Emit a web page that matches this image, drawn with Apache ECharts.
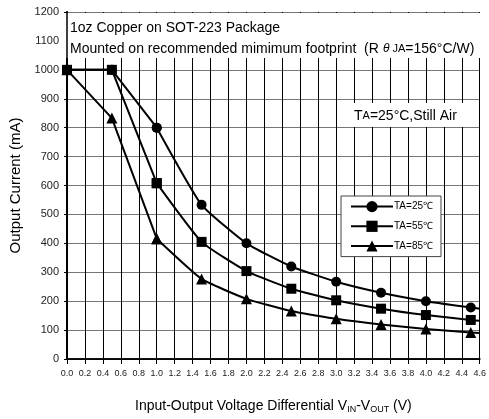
<!DOCTYPE html>
<html>
<head>
<meta charset="utf-8">
<script src="https://cdn.jsdelivr.net/npm/echarts@6/dist/echarts.min.js"></script>
<style>
html,body{margin:0;padding:0;background:#fff;}
#main{width:489px;height:419px;}
</style>
</head>
<body>
<div id="main"></div>
<script>
var xValues = [0, 0.5, 1.0, 1.5, 2.0, 2.5, 3.0, 3.5, 4.0, 4.5, 4.6];
var ta25 = [1000, 1000, 800, 533, 400, 320, 267, 229, 200, 178, 174];
var ta55 = [1000, 1000, 608, 405, 304, 243, 203, 174, 152, 135, 132];
var ta85 = [1000, 833, 416, 277, 208, 166, 139, 119, 104, 92, 90];
var seriesNames = ['TA=25\u2103', 'TA=55\u2103', 'TA=85\u2103'];
var yTicks = [0, 100, 200, 300, 400, 500, 600, 700, 800, 900, 1000, 1100, 1200];

function build(vals, from, to) {
  var out = [];
  for (var i = from; i <= to; i++) {
    var item = { value: [xValues[i], vals[i]] };
    if (i === vals.length - 1) item.symbol = 'none';
    out.push(item);
  }
  return out;
}

var FONT = 'Liberation Sans, Arial, sans-serif';
var chart = echarts.init(document.getElementById('main'));
function mkSeries(name, vals, sym, size) {
  var base = {
    name: name, type: 'line',
    symbol: sym, symbolSize: size,
    lineStyle: { color: '#000', width: 2 },
    itemStyle: { color: '#000' },
    emphasis: { disabled: true },
    z: 3
  };
  var straight = Object.assign({}, base, { data: build(vals, 0, 2), smooth: false });
  var curved = Object.assign({}, base, { data: build(vals, 2, vals.length - 1), smooth: 0.15 });
  return [straight, curved];
}
var series = [].concat(
  mkSeries(seriesNames[0], ta25, 'circle', 10),
  mkSeries(seriesNames[2], ta85, 'triangle', 11),
  mkSeries(seriesNames[1], ta55, 'rect', 10)
);
chart.setOption({
  animation: false,
  backgroundColor: '#fff',
  grid: { left: 62, right: 7, top: 12, bottom: 54, containLabel: false },
  legend: {
    data: seriesNames,
    orient: 'vertical',
    left: 341, top: 196,
    padding: [5, 8, 5, 9],
    itemGap: 8.5,
    itemWidth: 42, itemHeight: 14,
    backgroundColor: '#fff',
    borderColor: '#444', borderWidth: 1,
    textStyle: { fontFamily: FONT, fontSize: 10, color: '#000', padding: [0, 0, 0, -4] },
    z: 5
  },
  xAxis: [{
    type: 'value', min: 0, max: 4.6, interval: 0.2,
    name: '{n|Input-Output Voltage Differential V}{s|IN}{n|-V}{s|OUT}{n| (V)}',
    nameLocation: 'middle', nameGap: 40,
    nameTextStyle: {
      rich: {
        n: { fontFamily: FONT, fontSize: 14, color: '#000' },
        s: { fontFamily: FONT, fontSize: 9, color: '#000', verticalAlign: 'bottom', padding: [6, 0, 0, 0] }
      }
    },
    axisLine: { show: true, lineStyle: { color: '#000', width: 1.5 } },
    axisTick: { show: false },
    axisLabel: { fontFamily: FONT, fontSize: 9, color: '#222', margin: 10, showMaxLabel: true, showMinLabel: true,
      formatter: function (v) { return v.toFixed(1); } },
    splitLine: { show: true, lineStyle: { color: '#000', width: 1 } }
  }, {
    type: 'value', min: 0, max: 4.6, interval: 0.2, position: 'top',
    axisLine: { show: true, lineStyle: { color: '#000', width: 1.5 } },
    axisTick: { show: true, inside: true, length: 5, lineStyle: { color: '#000' } },
    axisLabel: { show: false },
    splitLine: { show: false },
    z: 10
  }],
  yAxis: [{
    type: 'value', min: 0, max: 1200, interval: 100,
    name: 'Output Current (mA)',
    nameLocation: 'middle', nameGap: 44,
    nameTextStyle: { fontFamily: FONT, fontSize: 15, color: '#000' },
    axisLine: { show: true, lineStyle: { color: '#000', width: 2 } },
    axisTick: { show: true, length: 3, lineStyle: { color: '#000' } },
    axisLabel: { fontFamily: FONT, fontSize: 11, color: '#222', margin: 8,
      formatter: function (v) { return yTicks.indexOf(v) >= 0 ? String(v) : ''; } },
    splitLine: { show: true, lineStyle: { color: '#777', width: 1 } }
  }, {
    type: 'value', min: 0, max: 1200, interval: 100, position: 'right',
    axisLine: { show: true, lineStyle: { color: '#000', width: 1.5 } },
    axisTick: { show: false }, axisLabel: { show: false }, splitLine: { show: false },
    z: 10
  }],
  graphic: [
    { type: 'rect', shape: { x: 63, y: 13, width: 418, height: 45 }, style: { fill: '#fff' }, z: 1, silent: true },
    { type: 'text', x: 70, y: 28, z: 2, style: { text: '1oz Copper on SOT-223 Package', font: '14px ' + FONT, fill: '#000', verticalAlign: 'middle' } },
    { type: 'text', x: 70, y: 49, z: 2, style: {
        text: '{n|Mounted on recommended mimimum footprint  (R}{t|\u03b8}{j| JA}{n|=156\u00b0C/W)}',
        verticalAlign: 'middle',
        rich: {
          n: { font: '14px ' + FONT, fill: '#000' },
          t: { font: 'italic 12px ' + FONT, fill: '#000', padding: [0, 0, 0, 4] },
          j: { font: '11px ' + FONT, fill: '#000' }
        } } },
    { type: 'rect', shape: { x: 348, y: 103, width: 119, height: 24 }, style: { fill: '#fff' }, z: 1, silent: true },
    { type: 'text', x: 354, y: 116, z: 2, style: {
        text: '{n|T}{s|A}{n|=25\u00b0C,Still Air}',
        verticalAlign: 'middle',
        rich: {
          n: { font: '14px ' + FONT, fill: '#000' },
          s: { font: '11px ' + FONT, fill: '#000' }
        } } }
  ],
  series: series
});
</script>
</body>
</html>
